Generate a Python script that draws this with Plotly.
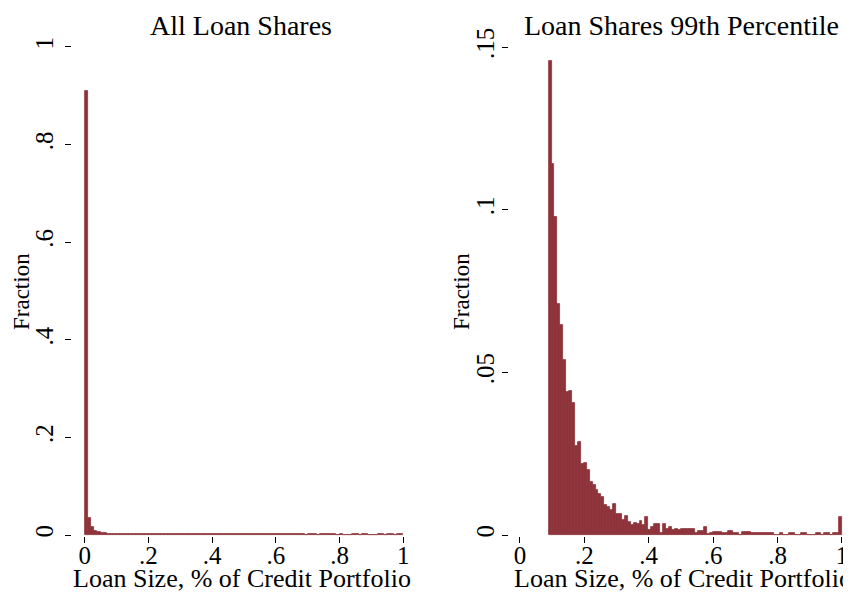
import plotly.graph_objects as go

# ---------------- data ----------------
# Left panel: all loan shares, 100 bins on [0, 1]
left_bin_start = 0.0
left_bin_width = 0.01
left_fraction = (
    [0.91, 0.035, 0.016, 0.009, 0.0055, 0.0038, 0.0032, 0.003, 0.003, 0.003]
    + [0.0028] * 10
    + [0.0027] * 20
    + [0.0026] * 20
    + [0.0025] * 9                   # bins 61-69
    + [0, 0.0025, 0.0025, 0.0025, 0]   # 70-74
    + [0.0025] * 5                   # 75-79
    + [0, 0.0025, 0, 0, 0]           # 80-84
    + [0.0025, 0.0025, 0, 0.0025, 0.0025]  # 85-89
    + [0, 0, 0, 0.0025, 0.0025]      # 90-94
    + [0, 0.0025, 0.0025, 0, 0.0025, 0.0025]  # 95-100
)

# Right panel: loan shares above the 99th percentile, 100 bins on [0.089, 1]
right_bin_start = 0.089
right_bin_width = 0.00911
right_fraction = [
    0.1456, 0.114, 0.0978, 0.0711, 0.0646, 0.0539, 0.0439, 0.0443, 0.0407, 0.0273,
    0.0287, 0.0217, 0.022, 0.0201, 0.0164, 0.0155, 0.0137, 0.0125, 0.0116, 0.0091,
    0.0085,
    0.0076, 0.0094, 0.0066, 0.0066, 0.0045, 0.0057, 0.0041, 0.003, 0.0037, 0.0034,
    0.0044, 0.003, 0.0054, 0.0014, 0.0026, 0.0033, 0.0033, 0.0006, 0.0034, 0.0017,
    0.0024, 0.0016, 0.002, 0.0016, 0.0017, 0.0019, 0.002, 0.0017, 0.002, 0.0006,
    0.0011, 0.0011, 0.0024,
    0.0004, 0.0007, 0.0008, 0.0008, 0.0008, 0.0007, 0.0007, 0.0011, 0.0011, 0.0006,
    0.0006, 0.0, 0.0008, 0.0008, 0.0008, 0.0007, 0.0007, 0.0007, 0.0007, 0.0006,
    0.0006, 0.0006, 0.0006, 0.0, 0.0, 0.0006, 0.0, 0.0, 0.0006, 0.0006,
    0.0, 0.0, 0.0006, 0.0006, 0.0, 0.0, 0.0, 0.0006, 0.0006, 0.0,
    0.0006, 0.0006, 0.0, 0.0006, 0.0006, 0.0056,
]

x_tickvals = [0, 0.2, 0.4, 0.6, 0.8, 1]
x_ticktext = ["0", ".2", ".4", ".6", ".8", "1"]
left_y_tickvals = [0, 0.2, 0.4, 0.6, 0.8, 1]
left_y_ticktext = ["0", ".2", ".4", ".6", ".8", "1"]
right_y_tickvals = [0, 0.05, 0.1, 0.15]
right_y_ticktext = ["0", ".05", ".1", ".15"]

left_title = "All Loan Shares"
right_title = "Loan Shares 99th Percentile"
x_title = "Loan Size, % of Credit Portfolio"
y_title = "Fraction"

# ---------------- figure ----------------
W, H = 851, 597
OFF = 8  # page body margin in the browser
BAR = "#8E333B"
FONT = "Liberation Serif"


def px_x(p):
    return (p - OFF) / W


def px_y(p):
    return 1 - (p - OFF) / H


def centers(start, width, n):
    return [start + width * (i + 0.5) for i in range(n)]


fig = go.Figure()
fig.add_trace(go.Bar(
    x=centers(left_bin_start, left_bin_width, len(left_fraction)),
    y=left_fraction, width=left_bin_width,
    marker=dict(color=BAR, line=dict(color=BAR, width=0.8)),
    xaxis="x", yaxis="y", showlegend=False,
))
fig.add_trace(go.Bar(
    x=centers(right_bin_start, right_bin_width, len(right_fraction)),
    y=right_fraction, width=right_bin_width,
    marker=dict(color=BAR, line=dict(color=BAR, width=0.8)),
    xaxis="x2", yaxis="y2", showlegend=False,
))

y_dom = [px_y(536), px_y(37)]
common_axis = dict(
    showgrid=False, zeroline=False, showline=False, automargin=False,
    ticks="outside", ticklen=6, tickwidth=1, tickcolor="black",
    tickfont=dict(family=FONT, size=25, color="black"),
)

fig.update_layout(
    width=W, height=H,
    margin=dict(l=0, r=0, t=0, b=0),
    paper_bgcolor="white", plot_bgcolor="white",
    bargap=0,
    xaxis=dict(domain=[px_x(72), px_x(416)], range=[-0.04, 1.04],
               tickvals=x_tickvals, ticktext=x_ticktext, anchor="y",
               ticklabelstandoff=-9, **common_axis),
    yaxis=dict(domain=y_dom, range=[-0.002, 1.0204],
               tickvals=left_y_tickvals, ticktext=left_y_ticktext, tickangle=-90,
               anchor="x", ticklabelstandoff=2, **common_axis),
    xaxis2=dict(domain=[px_x(509), px_x(858)], range=[-0.034, 1.05],
                tickvals=x_tickvals, ticktext=x_ticktext, anchor="y2",
                ticklabelstandoff=-9, **common_axis),
    yaxis2=dict(domain=y_dom, range=[-0.0003, 0.1531],
                tickvals=right_y_tickvals, ticktext=right_y_ticktext, tickangle=-90,
                anchor="x2", ticklabelstandoff=-2, **common_axis),
)

annotations = [
    dict(text=left_title, x=px_x(241), y=px_y(8), size=28, yanchor="top"),
    dict(text=right_title, x=px_x(681), y=px_y(8), size=28, yanchor="top"),
    dict(text=x_title, x=px_x(242), y=px_y(578), size=26),
    dict(text=x_title, x=px_x(683), y=px_y(578), size=26),
    dict(text=y_title, x=px_x(21), y=px_y(292), size=23, textangle=-90),
    dict(text=y_title, x=px_x(461), y=px_y(292), size=23, textangle=-90),
]
for a in annotations:
    s = a.pop("size")
    ya = a.pop("yanchor", "middle")
    a.update(xref="paper", yref="paper", showarrow=False,
             font=dict(family=FONT, size=s, color="black"),
             xanchor="center", yanchor=ya)
fig.update_layout(annotations=annotations)

fig.write_html("out.html")
